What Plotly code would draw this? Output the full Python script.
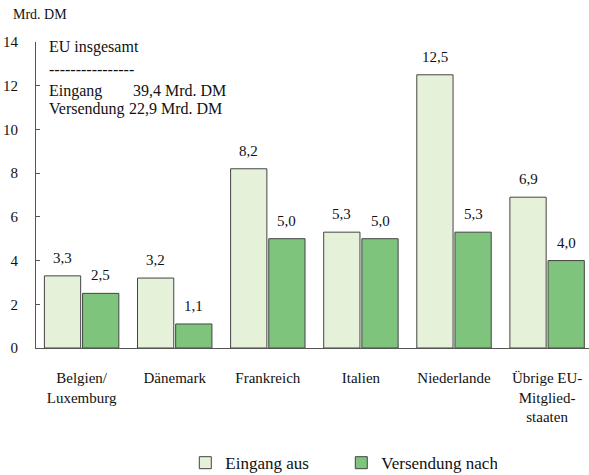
import plotly.graph_objects as go

categories = ["Belgien/<br>Luxemburg", "Dänemark", "Frankreich", "Italien", "Niederlande", "Übrige EU-<br>Mitglied-<br>staaten"]
eingang = [3.3, 3.2, 8.2, 5.3, 12.5, 6.9]
versendung = [2.5, 1.1, 5.0, 5.0, 5.3, 4.0]
y_ticks = [0, 2, 4, 6, 8, 10, 12, 14]

def de(v):
    return f"{v:.1f}".replace(".", ",")

FONT = "Liberation Serif, Times New Roman, serif"
BARGAP = 0.18
HALF = (1 - BARGAP) / 4  # bar centre offset within a category (data units)

fig = go.Figure()
fig.add_trace(go.Bar(
    x=categories, y=eingang, name="Eingang aus",
    marker=dict(color="#e5f1d8", line=dict(color="#444444", width=1)),
))
fig.add_trace(go.Bar(
    x=categories, y=versendung, name="Versendung nach",
    marker=dict(color="#7ec47c", line=dict(color="#444444", width=1)),
))

ann_font = dict(family=FONT, size=16, color="#111")
lbl_font = dict(family=FONT, size=15, color="#111")
annotations = []
for i, (a, b) in enumerate(zip(eingang, versendung)):
    annotations.append(dict(text=de(a), x=i - HALF, y=a, xref="x", yref="y", yanchor="bottom",
                            yshift=8, showarrow=False, font=lbl_font))
    annotations.append(dict(text=de(b), x=i + HALF, y=b, xref="x", yref="y", yanchor="bottom",
                            yshift=8, showarrow=False, font=lbl_font))

annotations += [
    dict(text="Mrd. DM", xref="paper", yref="paper", x=-0.045, y=1.06, xanchor="left",
         yanchor="bottom", showarrow=False, font=dict(family=FONT, size=14, color="#111")),
    dict(text="EU insgesamt", xref="paper", yref="y", x=0.019, y=13.75, xanchor="left",
         yanchor="middle", showarrow=False, font=ann_font),
    dict(text="-" * 16, xref="paper", yref="y", x=0.019, y=12.75, xanchor="left",
         yanchor="middle", showarrow=False, font=ann_font),
    dict(text="Eingang", xref="paper", yref="y", x=0.019, y=11.78, xanchor="left",
         yanchor="middle", showarrow=False, font=ann_font),
    dict(text="39,4 Mrd. DM", xref="paper", yref="y", x=0.172, y=11.78, xanchor="left",
         yanchor="middle", showarrow=False, font=ann_font),
    dict(text="Versendung", xref="paper", yref="y", x=0.019, y=10.95, xanchor="left",
         yanchor="middle", showarrow=False, font=ann_font),
    dict(text="22,9 Mrd. DM", xref="paper", yref="y", x=0.165, y=10.95, xanchor="left",
         yanchor="middle", showarrow=False, font=ann_font),
]

fig.update_layout(
    width=589, height=475,
    margin=dict(l=36, r=0, t=42, b=127, autoexpand=False),
    plot_bgcolor="white", paper_bgcolor="white",
    font=dict(family=FONT, size=15, color="#111"),
    barmode="group", bargap=BARGAP, bargroupgap=0.05,
    showlegend=True,
    legend=dict(orientation="h", x=0.27, xanchor="left", xref="paper",
                y=0.025, yanchor="middle", yref="container",
                font=dict(family=FONT, size=17), traceorder="normal",
                itemwidth=30, entrywidth=111),
    xaxis=dict(range=[-0.49, 5.45], showline=True, linecolor="#555", linewidth=1,
               ticks="", showgrid=False, tickfont=dict(family=FONT, size=15),
               ticklabelstandoff=16, automargin=False),
    yaxis=dict(range=[0, 14], tickvals=y_ticks, showline=True, linecolor="#555", linewidth=1,
               ticks="inside", ticklen=4, tickcolor="#555", showgrid=False, zeroline=False,
               tickfont=dict(family=FONT, size=15), ticklabelstandoff=14, automargin=False),
    annotations=annotations,
)
fig.write_html("out.html", config={"displayModeBar": False},
               post_script="document.body.style.margin='0';")
